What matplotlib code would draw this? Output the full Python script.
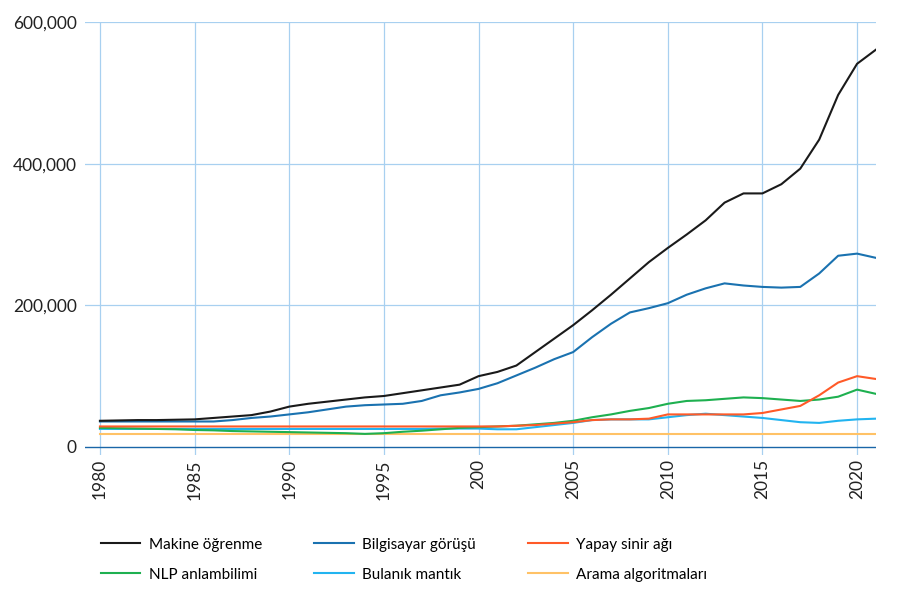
import matplotlib
matplotlib.use("Agg")
import matplotlib.pyplot as plt
from matplotlib.lines import Line2D

years = list(range(1980, 2022))

makine = [37, 37.5, 38, 38, 38.5, 39, 41, 43, 45, 50, 57, 61, 64, 67, 70, 72, 76, 80, 84, 88,
          100, 106, 115, 134, 153, 172, 193, 215, 238, 261, 281, 300, 320, 345, 358, 358, 371,
          393, 434, 497, 541, 561]
bilgisayar = [36, 36, 36, 36, 36, 36, 36, 38, 41, 43, 46, 49, 53, 57, 59, 60, 61, 65, 73, 77,
              82, 90, 101, 112, 124, 134, 155, 174, 190, 196, 203, 215, 224, 231, 228, 226, 225,
              226, 245, 270, 273, 267]
yapay = [29, 29, 29, 29, 29, 29, 29, 29, 29, 29, 29, 29, 29, 29, 29, 29, 29, 29, 29, 29,
         29, 29, 30, 31, 33, 35, 38, 39, 39, 40, 46, 46, 46, 46, 46, 48, 53, 58, 73, 91, 100, 96]
nlp = [27, 26.5, 26, 25.5, 25, 24, 23.5, 22.5, 22, 21.5, 21, 20.5, 20, 19.5, 18.5, 19.5, 21.5,
       23, 25, 27, 28, 29, 30, 32, 34, 37, 42, 46, 51, 55, 61, 65, 66, 68, 70, 69, 67, 65, 67,
       71, 81, 75]
bulanik = [25.5, 25.5, 25.5, 25.5, 25.5, 25.5, 25.5, 25.5, 25.5, 25.5, 25.5, 25.5, 25.5, 25.5,
           25.5, 25.5, 25.5, 25.5, 26, 26, 26, 25, 25, 28, 31, 34, 38, 39, 39, 39, 42, 45, 47,
           45, 43, 41, 38, 35, 34, 37, 39, 40]
arama = [19] * len(years)

series_names = ["Makine öğrenme", "Bilgisayar görüşü", "Yapay sinir ağı",
                "NLP anlambilimi", "Bulanık mantık", "Arama algoritmaları"]
series_vals = [makine, bilgisayar, yapay, nlp, bulanik, arama]
colors = ["#1a1a1a", "#1a72b0", "#ff5a28", "#1eb050", "#22b4f0", "#ffc266"]

xticks = [1980, 1985, 1990, 1995, 2000, 2005, 2010, 2015, 2020]
xticklabels = ["1980", "1985", "1990", "1995", "200", "2005", "2010", "2015", "2020"]
yticks = [0, 200000, 400000, 600000]
yticklabels = ["0", "200,000", "400,000", "600,000"]

plt.rcParams['font.family'] = ['Lato', 'DejaVu Sans']

fig = plt.figure(figsize=(9, 5.89), dpi=100)
ax = fig.add_axes([85/900, 1-455/589, (876-85)/900, (455-22)/589])
ax.set_xlim(1979.21, 2021)
ax.set_ylim(-11300, 600000)

grid_c = "#a8d0f0"
for x in xticks:
    ax.axvline(x, color=grid_c, lw=0.9, zorder=0)
for y in yticks[1:]:
    ax.axhline(y, color=grid_c, lw=0.9, zorder=0)
ax.axhline(0, color="#1a66a8", lw=1.0, zorder=1)

order = [5, 4, 3, 2, 1, 0]
for i in order:
    ax.plot(years, [v * 1000 for v in series_vals[i]], color=colors[i], lw=1.5, zorder=2 + (5 - i))

for s in ax.spines.values():
    s.set_visible(False)
ax.set_xticks(xticks)
ax.set_xticklabels(xticklabels, rotation=90, fontsize=12.5, color="#222222")
ax.set_yticks(yticks)
ax.set_yticklabels(yticklabels, fontsize=12.5, color="#222222")
ax.tick_params(axis='both', length=0)
ax.tick_params(axis='y', pad=6)
ax.tick_params(axis='x', pad=3)

leg_order = [0, 3, 1, 4, 2, 5]
handles = [Line2D([0], [0], color=colors[i], lw=1.5) for i in leg_order]
labels = [series_names[i] for i in leg_order]
fig.legend(handles, labels, ncol=3, loc='upper left', bbox_to_anchor=(87/900, 1-524/589),
           frameon=False, fontsize=11, handlelength=2.6, handletextpad=0.55,
           columnspacing=3.4, labelspacing=1.05)

fig.savefig("out.png", dpi=100)
